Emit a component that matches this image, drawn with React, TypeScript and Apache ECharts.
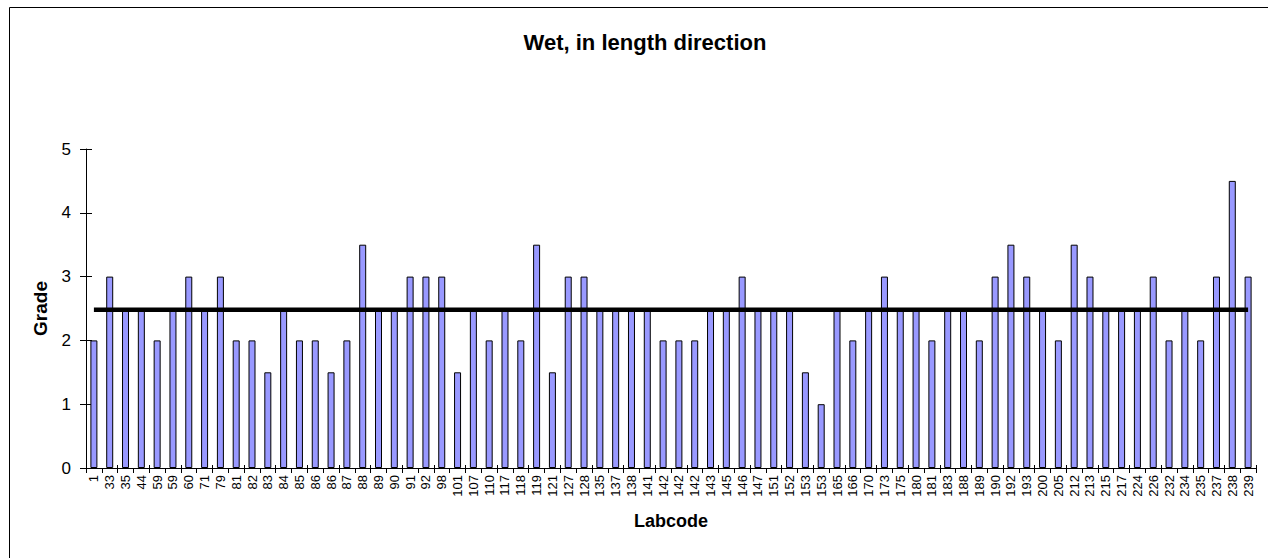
import React, { useEffect, useRef } from "react";
import * as echarts from "echarts";

const labcodes = [
  "1", "33", "35", "44", "59", "59", "60", "71", "79", "81",
  "82", "83", "84", "85", "86", "86", "87", "88", "89", "90",
  "91", "92", "98", "101", "107", "110", "117", "118", "119", "121",
  "127", "128", "135", "137", "138", "141", "142", "142", "142", "143",
  "145", "146", "147", "151", "152", "153", "153", "165", "166", "170",
  "173", "175", "180", "181", "183", "188", "189", "190", "192", "193",
  "200", "205", "212", "213", "215", "217", "224", "226", "232", "234",
  "235", "237", "238", "239",
];

const grades = [
  2, 3, 2.5, 2.5, 2, 2.5, 3, 2.5, 3, 2,
  2, 1.5, 2.5, 2, 2, 1.5, 2, 3.5, 2.5, 2.5,
  3, 3, 3, 1.5, 2.5, 2, 2.5, 2, 3.5, 1.5,
  3, 3, 2.5, 2.5, 2.5, 2.5, 2, 2, 2, 2.5,
  2.5, 3, 2.5, 2.5, 2.5, 1.5, 1, 2.5, 2, 2.5,
  3, 2.5, 2.5, 2, 2.5, 2.5, 2, 3, 3.5, 3,
  2.5, 2, 3.5, 3, 2.5, 2.5, 2.5, 3, 2, 2.5,
  2, 3, 4.5, 3,
];

const yTicks = [0, 1, 2, 3, 4, 5];

const titleText = "Wet, in length direction";
const xName = "Labcode";
const yName = "Grade";

const FONT = "'Liberation Sans', Arial, sans-serif";

export default function App() {
  const ref = useRef<HTMLDivElement>(null);

  useEffect(() => {
    if (!ref.current) return;
    const chart = echarts.init(ref.current, null, { renderer: "svg" });
    const mean = grades.reduce((a, b) => a + b, 0) / grades.length;
    const meanLine = grades.map(() => mean);
    const yMax = yTicks[yTicks.length - 1];

    chart.setOption({
      animation: false,
      backgroundColor: "#ffffff",
      textStyle: { fontFamily: FONT },
      graphic: [
        {
          type: "rect",
          shape: { x: 9.5, y: 7.5, width: 1400, height: 700 },
          style: { fill: "none", stroke: "#000", lineWidth: 1 },
          silent: true,
        },
        {
          type: "text",
          x: 645,
          y: 31,
          style: {
            text: titleText,
            fontFamily: FONT,
            fontSize: 22,
            fontWeight: "bold",
            fill: "#000",
            textAlign: "center",
            textVerticalAlign: "top",
          },
        },
      ],
      grid: { left: 86, right: 12, top: 149, bottom: 90, containLabel: false },
      xAxis: [
        {
          type: "category",
          data: labcodes,
          name: xName,
          nameLocation: "middle",
          nameGap: 44,
          nameTextStyle: { fontFamily: FONT, fontSize: 18, fontWeight: "bold", color: "#000" },
          axisLine: { lineStyle: { color: "#000", width: 1 } },
          axisTick: { show: true, alignWithLabel: false, length: 5, lineStyle: { color: "#000" } },
          axisLabel: {
            interval: 0,
            rotate: 90,
            fontFamily: FONT,
            fontSize: 13,
            color: "#000",
            margin: 7,
          },
          splitLine: { show: false },
        },
        {
          type: "category",
          data: labcodes,
          position: "bottom",
          axisLine: { show: false },
          axisTick: { show: true, inside: true, length: 3, lineStyle: { color: "#000" } },
          axisLabel: { show: false },
          splitLine: { show: false },
        },
      ],
      yAxis: [
        {
          type: "value",
          min: 0,
          max: yMax,
          interval: 1,
          name: yName,
          nameLocation: "middle",
          nameGap: 36,
          nameRotate: 90,
          nameTextStyle: { fontFamily: FONT, fontSize: 19, fontWeight: "bold", color: "#000" },
          axisLine: { show: true, lineStyle: { color: "#000", width: 1 } },
          axisTick: { show: true, length: 6, lineStyle: { color: "#000" } },
          axisLabel: { fontFamily: FONT, fontSize: 17, color: "#000", margin: 15 },
          splitLine: { show: false },
        },
        {
          type: "value",
          min: 0,
          max: yMax,
          interval: 1,
          position: "left",
          axisLine: { show: false },
          axisTick: { show: true, inside: true, length: 6, lineStyle: { color: "#000" } },
          axisLabel: { show: false },
          splitLine: { show: false },
        },
      ],
      series: [
        {
          type: "bar",
          data: grades,
          barWidth: 7,
          itemStyle: { color: "#9999ff", borderColor: "#000", borderWidth: 1 },
          z: 2,
        },
        {
          type: "line",
          data: meanLine,
          symbol: "none",
          lineStyle: { color: "#000", width: 4.5 },
          z: 3,
        },
      ],
    });

    return () => chart.dispose();
  }, []);

  return (
    <div
      ref={ref}
      style={{ position: "absolute", left: 0, top: 0, width: 1268, height: 558 }}
    />
  );
}
